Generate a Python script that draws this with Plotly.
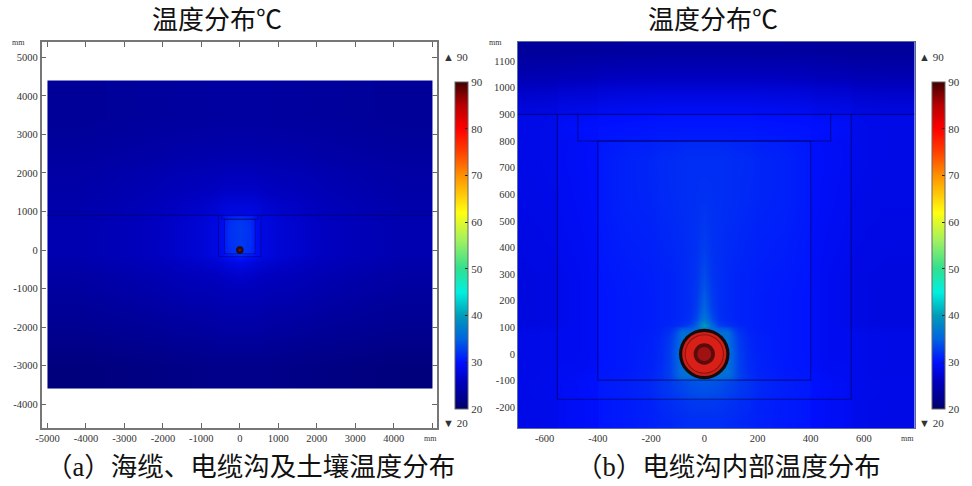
import plotly.graph_objects as go

W, H = 972, 486
SERIF = "Liberation Serif, Noto Sans CJK SC, serif"
CJK = "Liberation Serif, Noto Sans CJK SC, serif"

# colour bar: temperature (deg C) -> colour
SCALE_T = [20, 22, 26, 30, 35, 40, 45, 50, 56, 62, 70, 75, 80, 85, 90]
SCALE_C = ["#00006a", "#00008a", "#0000c0", "#0010ff", "#0064e0", "#009cb8", "#00f0e0",
           "#30e090", "#a0f060", "#ffff10", "#ff9000", "#ff4000", "#ff0000", "#b80000", "#400000"]
T_MIN, T_MAX = 20, 90
COLORBAR_TICKS = [20, 30, 40, 50, 60, 70, 80, 90]

# geometry (mm)
GROUND_Y = 900
COVER_X, COVER_Y = 475, 800
INNER_X, INNER_Y = 400, -98
OUTER_X, OUTER_Y = 552, -170
CABLE_R = [95, 83, 74, 70, 40, 26]
CABLE_C_B = ["#180a08", "#cc2018", "#8a1410", "#d82018", "#5a0c0c", "#a01212"]
CABLE_C_A = ["#100814", "#300a10", "#240810", "#300a10", "#500c10", "#701010"]

# panel (a): whole domain (the 5000 tick carries no label in the reference)
A_XT = [-5000, -4000, -3000, -2000, -1000, 0, 1000, 2000, 3000, 4000, 5000]
A_XL = ["-5000", "-4000", "-3000", "-2000", "-1000", "0", "1000", "2000", "3000", "4000", ""]
A_YT = [-4000, -3000, -2000, -1000, 0, 1000, 2000, 3000, 4000, 5000]
A_YL = ["-4000", "-3000", "-2000", "-1000", "0", "1000", "2000", "3000", "4000", "5000"]
A_RANGE_X = [-5150, 5125]
A_RANGE_Y = [-4620, 5400]
A_HALF_X = [100, 390, 410, 540, 560, 1000, 2000, 3500, 5000]
A_Y = [-3600, -2500, -1500, -700, -300, -180, -160, -100, -90, 100, 400, 800, 890, 910, 1500, 2500, 4400]
A_T = [
    [22.0, 22.0, 22.0, 22.0, 22.0, 22.0, 21.8, 21.5, 21.2],
    [24.0, 24.0, 24.0, 24.0, 24.0, 23.8, 23.5, 23.0, 22.5],
    [25.6, 25.5, 25.5, 25.4, 25.4, 25.2, 25.0, 24.2, 23.5],
    [27.6, 27.3, 27.0, 26.8, 26.8, 26.5, 26.0, 25.0, 24.2],
    [30.0, 29.0, 28.5, 28.2, 28.0, 27.5, 26.5, 25.5, 24.6],
    [32.0, 30.5, 29.5, 29.0, 28.5, 27.8, 26.8, 25.6, 24.8],
    [32.0, 30.5, 29.5, 29.0, 28.5, 27.8, 26.8, 25.6, 24.8],
    [32.5, 31.8, 29.4, 29.0, 28.5, 27.8, 26.8, 25.6, 24.8],
    [32.5, 31.8, 29.4, 29.0, 28.5, 27.8, 26.8, 25.6, 24.8],
    [32.5, 32.0, 29.4, 28.9, 28.5, 27.8, 26.8, 25.6, 24.8],
    [32.5, 32.0, 29.4, 28.9, 28.5, 27.8, 26.8, 25.6, 24.8],
    [32.0, 31.5, 29.2, 28.8, 28.4, 27.6, 26.6, 25.5, 24.6],
    [29.0, 29.0, 28.8, 28.6, 28.2, 27.3, 26.4, 25.3, 24.5],
    [27.5, 27.5, 27.4, 27.3, 27.2, 26.8, 26.2, 25.2, 24.4],
    [25.6, 25.6, 25.6, 25.5, 25.5, 25.4, 25.2, 24.6, 24.0],
    [23.6, 23.6, 23.6, 23.6, 23.6, 23.6, 23.5, 23.3, 23.0],
]

# panel (b): inside the trench
B_XT = [-600, -400, -200, 0, 200, 400, 600]
B_XL = ["-600", "-400", "-200", "0", "200", "400", "600"]
B_YT = [-200, -100, 0, 100, 200, 300, 400, 500, 600, 700, 800, 900, 1000, 1100]
B_YL = ["-200", "-100", "0", "100", "200", "300", "400", "500", "600", "700", "800", "900", "1000", "1100"]
B_RANGE_X = [-700, 790]
B_RANGE_Y = [-278, 1172]
B_HALF_X = [15, 40, 70, 100, 130, 200, 395, 405, 545, 555, 800]
B_Y = [-278, -220, -172, -168, -102, -98, -60, 60, 98, 115, 140, 180, 250, 350, 500, 650, 795, 805, 895, 905,
       960, 1020, 1100, 1172]
B_T = [
    [31.8, 31.8, 31.8, 31.6, 31.5, 31.2, 30.6, 30.0, 29.5, 29.0, 28.5],
    [32.3, 32.3, 32.2, 32.0, 31.8, 31.4, 30.6, 30.0, 29.5, 29.0, 28.5],
    [32.6, 32.5, 32.4, 32.2, 32.0, 31.5, 30.6, 30.0, 29.5, 29.0, 28.5],
    [33.8, 33.7, 33.5, 33.0, 32.6, 32.0, 30.8, 30.2, 29.6, 29.0, 28.6],
    [34.5, 34.4, 34.0, 33.5, 33.0, 32.0, 30.8, 30.2, 29.6, 29.0, 28.6],
    [36.0, 36.0, 36.0, 36.0, 34.0, 31.8, 30.6, 30.2, 29.4, 29.0, 28.5],
    [36.0, 36.0, 36.0, 36.0, 34.0, 31.5, 30.5, 30.0, 29.0, 29.0, 28.5],
    [36.0, 36.0, 36.0, 36.0, 33.0, 31.2, 30.5, 30.0, 29.0, 29.0, 28.5],
    [40.0, 35.5, 33.0, 32.0, 31.5, 31.0, 30.5, 30.0, 29.0, 28.5, 28.0],
    [37.0, 34.0, 32.0, 31.5, 31.2, 31.0, 30.5, 30.0, 29.0, 28.5, 28.0],
    [35.5, 33.0, 31.8, 31.4, 31.2, 31.0, 30.5, 30.0, 29.0, 28.5, 28.0],
    [34.5, 32.6, 31.8, 31.4, 31.2, 31.0, 30.5, 30.0, 29.0, 28.5, 28.0],
    [33.5, 32.2, 31.8, 31.4, 31.2, 31.0, 30.6, 30.0, 29.0, 28.5, 28.0],
    [32.6, 32.0, 31.8, 31.5, 31.4, 31.2, 30.8, 30.0, 29.2, 28.7, 28.2],
    [32.0, 31.9, 31.8, 31.7, 31.6, 31.4, 31.0, 30.0, 29.4, 28.8, 28.4],
    [31.8, 31.8, 31.8, 31.7, 31.6, 31.5, 31.0, 30.0, 29.5, 29.0, 28.5],
    [31.0, 31.0, 31.0, 31.0, 30.8, 30.8, 30.5, 30.0, 29.4, 29.0, 28.5],
    [30.4, 30.4, 30.4, 30.4, 30.4, 30.4, 30.2, 30.0, 29.8, 29.0, 28.5],
    [29.8, 29.8, 29.8, 29.8, 29.8, 29.8, 29.6, 29.4, 29.0, 28.8, 28.4],
    [29.0, 29.0, 29.0, 29.0, 29.0, 29.0, 28.8, 28.6, 28.2, 28.0, 27.5],
    [27.5, 27.5, 27.5, 27.5, 27.5, 27.5, 27.4, 27.2, 27.0, 26.8, 26.4],
    [25.5, 25.5, 25.5, 25.5, 25.5, 25.5, 25.4, 25.3, 25.0, 24.8, 24.6],
    [23.6, 23.6, 23.6, 23.6, 23.6, 23.6, 23.6, 23.5, 23.4, 23.3, 23.2],
]

TITLE = "温度分布℃"
CAP_A = "（a）海缆、电缆沟及土壤温度分布"
CAP_B = "（b）电缆沟内部温度分布"


def mirror_x(half):
    return [-v for v in reversed(half)] + list(half)


def mirror_row(row):
    return list(reversed(row)) + list(row[1:])


colorscale = [[(t - T_MIN) / (T_MAX - T_MIN), c] for t, c in zip(SCALE_T, SCALE_C)]

# pixel layout of the two panels
PANELS = {
    "a": dict(x0=41.7, x1=437, cb=454.7),
    "b": dict(x0=518, x1=914.5, cb=931.7),
}
Y_TOP, Y_BOT = 42, 428
CB_TOP, CB_BOT = 81.7, 409


def colorbar(px):
    return dict(x=px / W, xanchor="left", xpad=0, ypad=0, y=(H - CB_BOT) / H, yanchor="bottom",
                thickness=12.5, thicknessmode="pixels", len=CB_BOT - CB_TOP, lenmode="pixels",
                tickvals=COLORBAR_TICKS, ticks="inside", ticklen=3, tickcolor="#222",
                tickfont=dict(family=SERIF, size=11, color="#333"),
                outlinecolor="#666", outlinewidth=1, borderwidth=0)


fig = go.Figure()
fig.add_trace(go.Heatmap(x=mirror_x(A_HALF_X), y=A_Y, z=[mirror_row(r) for r in A_T],
                         zmin=T_MIN, zmax=T_MAX, colorscale=colorscale, zsmooth="best",
                         colorbar=colorbar(PANELS["a"]["cb"]), xaxis="x", yaxis="y", hoverinfo="skip"))
fig.add_trace(go.Heatmap(x=mirror_x(B_HALF_X), y=B_Y, z=[mirror_row(r) for r in B_T],
                         zmin=T_MIN, zmax=T_MAX, colorscale=colorscale, zsmooth="best",
                         colorbar=colorbar(PANELS["b"]["cb"]), xaxis="x2", yaxis="y2", hoverinfo="skip"))


def structure(xref, yref, x_left, x_right, lw, col, cable_colors):
    common = dict(xref=xref, yref=yref, line=dict(color=col, width=lw), layer="above")
    out = [
        dict(type="line", x0=x_left, x1=x_right, y0=GROUND_Y, y1=GROUND_Y, **common),
        dict(type="path", path=f"M {-OUTER_X} {GROUND_Y} L {-OUTER_X} {OUTER_Y} L {OUTER_X} {OUTER_Y} L {OUTER_X} {GROUND_Y}", **common),
        dict(type="path", path=f"M {-COVER_X} {GROUND_Y} L {-COVER_X} {COVER_Y} L {COVER_X} {COVER_Y} L {COVER_X} {GROUND_Y}", **common),
        dict(type="rect", x0=-INNER_X, x1=INNER_X, y0=INNER_Y, y1=COVER_Y, **common),
    ]
    for r, c in zip(CABLE_R, cable_colors):
        out.append(dict(type="circle", xref=xref, yref=yref, x0=-r, x1=r, y0=-r, y1=r,
                        fillcolor=c, line=dict(width=0), layer="above"))
    return out


shapes = structure("x", "y", -5000, 5000, 1, "rgba(0,0,90,0.5)", CABLE_C_A) + \
    structure("x2", "y2", -700, 790, 1.1, "rgba(0,0,90,0.6)", CABLE_C_B)


def axis(panel, vals, text, rng, anchor, is_x, ticks, line):
    d = PANELS[panel]
    dom = [d["x0"] / W, d["x1"] / W] if is_x else [(H - Y_BOT) / H, (H - Y_TOP) / H]
    return dict(domain=dom, range=rng, tickmode="array", tickvals=vals, ticktext=text, anchor=anchor,
                showgrid=False, zeroline=False, showline=True, mirror="allticks" if ticks else True,
                linecolor=line, linewidth=1.5 if ticks else 1, ticks="inside" if ticks else "", ticklen=5,
                tickcolor="#666", tickwidth=1, tickfont=dict(family=SERIF, size=10.5, color="#333"),
                automargin=False)


def note(x, y, text, size, family=SERIF, color="#333"):
    return dict(x=x / W, y=(H - y) / H, xref="paper", yref="paper", text=text, showarrow=False,
                xanchor="center", yanchor="middle", font=dict(family=family, size=size, color=color))


annotations = [
    note(217, 20, TITLE, 26, CJK, "#111"),
    note(713, 20, TITLE, 26, CJK, "#111"),
    note(250, 467, CAP_A, 26.5, CJK, "#111"),
    note(728, 467, CAP_B, 26.5, CJK, "#111"),
    note(18, 43, "mm", 8), note(430, 439, "mm", 8),
    note(495, 43, "mm", 8), note(907, 439, "mm", 8),
    note(455, 57, "▲ 90", 11), note(455, 423, "▼ 20", 11),
    note(931, 57, "▲ 90", 11), note(931, 423, "▼ 20", 11),
]

fig.update_layout(
    width=W, height=H, margin=dict(l=0, r=0, t=0, b=0), paper_bgcolor="white", plot_bgcolor="white",
    showlegend=False, shapes=shapes, annotations=annotations,
    xaxis=axis("a", A_XT, A_XL, A_RANGE_X, "y", True, True, "#777"),
    yaxis=axis("a", A_YT, A_YL, A_RANGE_Y, "x", False, True, "#777"),
    xaxis2=axis("b", B_XT, B_XL, B_RANGE_X, "y2", True, False, "#5a6aa0"),
    yaxis2=axis("b", B_YT, B_YL, B_RANGE_Y, "x2", False, False, "#5a6aa0"),
)
fig.write_html("out.html", config=dict(displayModeBar=False),
               post_script="document.body.style.margin='0';document.body.style.overflow='hidden';")
